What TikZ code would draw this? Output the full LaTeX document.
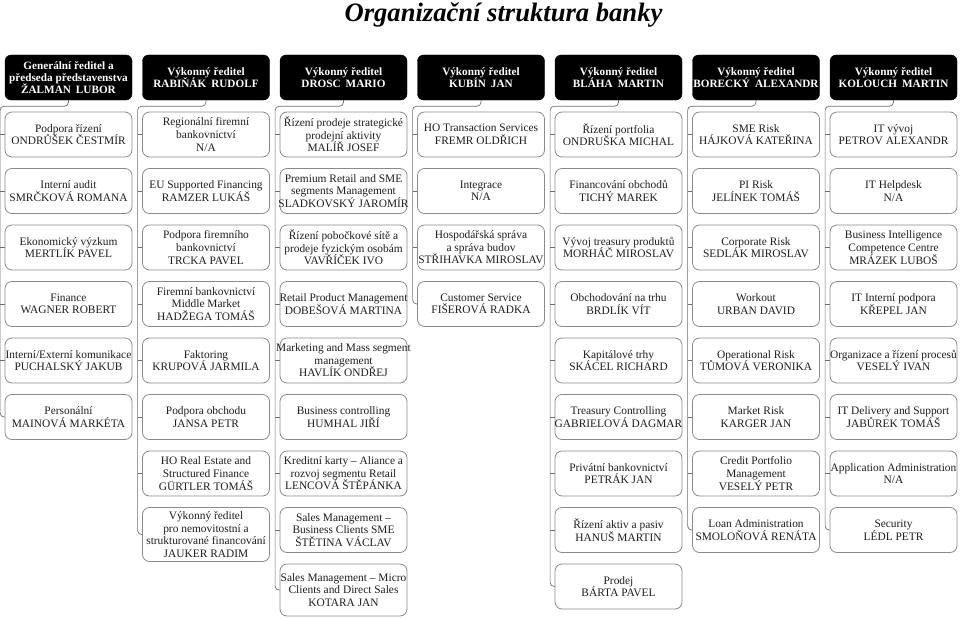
\documentclass[tikz,border=0pt]{standalone}
\usepackage{fontspec}
\setmainfont{Liberation Serif}
\usetikzlibrary{calc}
\definecolor{boxline}{HTML}{8A8A8A}
\definecolor{connline}{HTML}{6E6E6E}
\definecolor{txt}{HTML}{1E1E1E}
\tikzset{
  headbox/.style={draw=black, fill=black, rounded corners=6pt, minimum width=127pt, minimum height=45pt, inner sep=0pt},
  headtext/.style={text=white, font=\fontsize{11.2}{12.2}\selectfont\bfseries, align=center, inner sep=0pt},
  childbox/.style={draw=boxline, line width=0.8pt, fill=white, rounded corners=7pt, minimum width=127pt, inner sep=0pt},
  childtext/.style={text=txt, font=\fontsize{11.4}{12.6}\selectfont, align=center, inner sep=0pt},
  conn/.style={draw=connline, line width=0.7pt, rounded corners=4pt},
  titletext/.style={font=\fontsize{26.6}{30}\selectfont\bfseries\itshape, inner sep=0pt, anchor=base}
}
\newcommand\hbx[3]{\node[headbox] (#1) at (#2) {};\node[headtext] (#1t) at (#1.center) {#3};}
\newcommand\cbx[4]{\node[childbox, minimum height=#3] (#1) at (#2) {};\node[childtext] (#1t) at (#1.center) {#4};}
\newcommand\gap{\hspace{0.45em}}
\begin{document}
\begin{tikzpicture}[x=1pt,y=-1pt]
\useasboundingbox (0,0) rectangle (960,618);
\node[titletext] (title) at (503.5,21.5) {Organizační struktura banky};

% headers
\hbx{h1}{68.5,77.5}{Generální ředitel a\\předseda představenstva\\ŽALMAN\gap LUBOR}
\hbx{h2}{206,77.5}{Výkonný ředitel\\RABIŇÁK\gap RUDOLF}
\hbx{h3}{343.5,77.5}{Výkonný ředitel\\DROSC\gap MARIO}
\hbx{h4}{481,77.5}{Výkonný ředitel\\KUBÍN\gap JAN}
\hbx{h5}{618.5,77.5}{Výkonný ředitel\\BLÁHA\gap MARTIN}
\hbx{h6}{756,77.5}{Výkonný ředitel\\BORECKÝ\gap ALEXANDR}
\hbx{h7}{893.5,77.5}{Výkonný ředitel\\KOLOUCH\gap MARTIN}

% column 1
\cbx{a1}{68.5,134.5}{45pt}{Podpora řízení\\ONDRŮŠEK ČESTMÍR}
\cbx{a2}{68.5,191}{45pt}{Interní audit\\SMRČKOVÁ ROMANA}
\cbx{a3}{68.5,247.5}{45pt}{Ekonomický výzkum\\MERTLÍK PAVEL}
\cbx{a4}{68.5,304}{45pt}{Finance\\WAGNER ROBERT}
\cbx{a5}{68.5,360.5}{45pt}{Interní/Externí komunikace\\PUCHALSKÝ JAKUB}
\cbx{a6}{68.5,417}{45pt}{Personální\\MAINOVÁ MARKÉTA}

% column 2
\cbx{b1}{206,134.5}{45pt}{Regionální firemní\\bankovnictví\\N/A}
\cbx{b2}{206,191}{45pt}{EU Supported Financing\\RAMZER LUKÁŠ}
\cbx{b3}{206,247.5}{45pt}{Podpora firemního\\bankovnictví\\TRCKA PAVEL}
\cbx{b4}{206,304}{45pt}{Firemní bankovnictví\\Middle Market\\HADŽEGA TOMÁŠ}
\cbx{b5}{206,360.5}{45pt}{Faktoring\\KRUPOVÁ JARMILA}
\cbx{b6}{206,417}{45pt}{Podpora obchodu\\JANSA PETR}
\cbx{b7}{206,473.5}{45pt}{HO Real Estate and\\Structured Finance\\GÜRTLER TOMÁŠ}
\cbx{b8}{206,534.5}{54pt}{Výkonný ředitel\\pro nemovitostní a\\strukturované financování\\JAUKER RADIM}

% column 3
\cbx{c1}{343.5,134.5}{45pt}{Řízení prodeje strategické\\prodejní aktivity\\MALÍŘ JOSEF}
\cbx{c2}{343.5,191}{45pt}{Premium Retail and SME\\segments Management\\SLADKOVSKÝ JAROMÍR}
\cbx{c3}{343.5,247.5}{45pt}{Řízení pobočkové sítě a\\prodeje fyzickým osobám\\VAVŘÍČEK IVO}
\cbx{c4}{343.5,304}{45pt}{Retail Product Management\\DOBEŠOVÁ MARTINA}
\cbx{c5}{343.5,360.5}{45pt}{Marketing and Mass segment\\management\\HAVLÍK ONDŘEJ}
\cbx{c6}{343.5,417}{45pt}{Business controlling\\HUMHAL JIŘÍ}
\cbx{c7}{343.5,473.5}{45pt}{Kreditní karty – Aliance a\\rozvoj segmentu Retail\\LENCOVÁ ŠTĚPÁNKA}
\cbx{c8}{343.5,530}{45pt}{Sales Management –\\Business Clients SME\\ŠTĚTINA VÁCLAV}
\cbx{c9}{343.5,590}{52pt}{Sales Management – Micro\\Clients and Direct Sales\\KOTARA JAN}

% column 4
\cbx{d1}{481,134.5}{45pt}{HO Transaction Services\\FREMR OLDŘICH}
\cbx{d2}{481,191}{45pt}{Integrace\\N/A}
\cbx{d3}{481,247.5}{45pt}{Hospodářská správa\\a správa budov\\STŘIHAVKA MIROSLAV}
\cbx{d4}{481,304}{45pt}{Customer Service\\FIŠEROVÁ RADKA}

% column 5
\cbx{e1}{618.5,134.5}{45pt}{Řízení portfolia\\ONDRUŠKA MICHAL}
\cbx{e2}{618.5,191}{45pt}{Financování obchodů\\TICHÝ MAREK}
\cbx{e3}{618.5,247.5}{45pt}{Vývoj treasury produktů\\MORHÁČ MIROSLAV}
\cbx{e4}{618.5,304}{45pt}{Obchodování na trhu\\BRDLÍK VÍT}
\cbx{e5}{618.5,360.5}{45pt}{Kapitálové trhy\\SKÁCEL RICHARD}
\cbx{e6}{618.5,417}{45pt}{Treasury Controlling\\GABRIELOVÁ DAGMAR}
\cbx{e7}{618.5,473.5}{45pt}{Privátní bankovnictví\\PETRÁK JAN}
\cbx{e8}{618.5,530}{45pt}{Řízení aktiv a pasiv\\HANUŠ MARTIN}
\cbx{e9}{618.5,586.5}{45pt}{Prodej\\BÁRTA PAVEL}

% column 6
\cbx{f1}{756,134.5}{45pt}{SME Risk\\HÁJKOVÁ KATEŘINA}
\cbx{f2}{756,191}{45pt}{PI Risk\\JELÍNEK TOMÁŠ}
\cbx{f3}{756,247.5}{45pt}{Corporate Risk\\SEDLÁK MIROSLAV}
\cbx{f4}{756,304}{45pt}{Workout\\URBAN DAVID}
\cbx{f5}{756,360.5}{45pt}{Operational Risk\\TŮMOVÁ VERONIKA}
\cbx{f6}{756,417}{45pt}{Market Risk\\KARGER JAN}
\cbx{f7}{756,473.5}{45pt}{Credit Portfolio\\Management\\VESELÝ PETR}
\cbx{f8}{756,530}{45pt}{Loan Administration\\SMOLOŇOVÁ RENÁTA}

% column 7
\cbx{g1}{893.5,134.5}{45pt}{IT vývoj\\PETROV ALEXANDR}
\cbx{g2}{893.5,191}{45pt}{IT Helpdesk\\N/A}
\cbx{g3}{893.5,247.5}{45pt}{Business Intelligence\\Competence Centre\\MRÁZEK LUBOŠ}
\cbx{g4}{893.5,304}{45pt}{IT Interní podpora\\KŘEPEL JAN}
\cbx{g5}{893.5,360.5}{45pt}{Organizace a řízení procesů\\VESELÝ IVAN}
\cbx{g6}{893.5,417}{45pt}{IT Delivery and Support\\JABŮREK TOMÁŠ}
\cbx{g7}{893.5,473.5}{45pt}{Application Administration\\N/A}
\cbx{g8}{893.5,530}{45pt}{Security\\LÉDL PETR}

% connectors
\foreach \h/\c/\n in {h1/a/6,h2/b/8,h3/c/9,h4/d/4,h5/e/9,h6/f/8,h7/g/8}{
  \draw[conn] (\h.south) -- ++(0,6) -| ($(\c\n.west)+(-4.5,0)$) -- (\c\n.west);
  \pgfmathtruncatemacro\m{\n-1}
  \foreach \k in {1,...,\m}{
    \draw[conn] (\c\k.west) -- ++(-4.5,0);
  }
}
\end{tikzpicture}
\end{document}
